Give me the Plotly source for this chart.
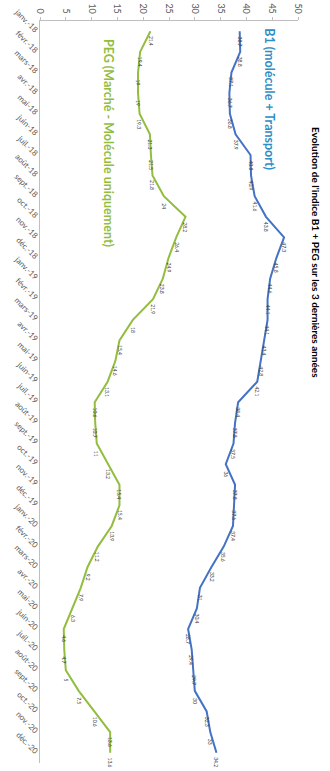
import plotly.graph_objects as go

months = ["janv.-18", "févr.-18", "mars-18", "avr.-18", "mai-18", "juin-18", "juil.-18", "août-18",
          "sept.-18", "oct.-18", "nov.-18", "déc.-18",
          "janv.-19", "févr.-19", "mars-19", "avr.-19", "mai-19", "juin-19", "juil.-19", "août-19",
          "sept.-19", "oct.-19", "nov.-19", "déc.-19",
          "janv.-20", "févr.-20", "mars-20", "avr.-20", "mai-20", "juin-20", "juil.-20", "août-20",
          "sept.-20", "oct.-20", "nov.-20", "déc.-20"]

b1 = [38.7, 38.8, 37.1, 36.7, 36.8, 37.9, 40.8, 40.9, 41.6, 43.8, 47.3, 45.8,
      44.6, 44.1, 44.1, 43.4, 42.8, 42.1, 38.4, 37.8, 37.5, 36.0, 37.8, 37.6,
      37.4, 35.6, 33.2, 31.0, 30.4, 28.7, 29.4, 29.7, 30.0, 32.3, 33.0, 34.2]

peg = [21.4, 19.4, 19.0, 19.0, 19.3, 21.3, 21.5, 21.8, 24.0, 28.2, 26.4, 24.9,
       23.8, 21.9, 18.0, 15.4, 14.6, 13.1, 10.6, 10.7, 11.0, 13.2, 15.4, 15.4,
       13.9, 11.2, 9.2, 7.9, 6.3, 4.6, 4.7, 5.0, 7.5, 10.6, 13.6, 13.6]

value_ticks = [0, 5, 10, 15, 20, 25, 30, 35, 40, 45, 50]

title_text = "Evolution de l'indice B1 + PEG sur les 3 dernières années"
b1_name = "B1 (molécule + Transport)"
peg_name = "PEG (Marché - Molécule uniquement)"

FONT = "Lato"
B1_COLOR = "#4472C4"
PEG_COLOR = "#92BD3F"

fig = go.Figure()
fig.add_trace(go.Scatter(x=b1, y=months, mode="lines", name=b1_name,
                         line=dict(color=B1_COLOR, width=2), showlegend=False))
fig.add_trace(go.Scatter(x=peg, y=months, mode="lines", name=peg_name,
                         line=dict(color=PEG_COLOR, width=2), showlegend=False))

annotations = []
for series in (b1, peg):
    for m, v in zip(months, series):
        annotations.append(dict(x=v, y=m, xref="x", yref="y", text=f"{v:g}",
                                showarrow=False, textangle=90, yshift=-10,
                                borderpad=0,
                                font=dict(family=FONT, size=5, color="#404040")))

annotations.append(dict(x=1.0, y=0.5, xref="paper", yref="paper",
                        text="<b>" + title_text + "</b>", showarrow=False,
                        textangle=90, xanchor="center", yanchor="middle",
                        xshift=18, yshift=140,
                        font=dict(family=FONT, size=10, color="#000000")))
annotations.append(dict(x=44.6, y=3.3, xref="x", yref="y",
                        text="<b>" + b1_name + "</b>", showarrow=False, textangle=90,
                        font=dict(family=FONT, size=12.5, color="#2E8EC6")))
annotations.append(dict(x=13.3, y=5.4, xref="x", yref="y",
                        text="<b>" + peg_name + "</b>", showarrow=False, textangle=90,
                        font=dict(family=FONT, size=12.5, color=PEG_COLOR)))

fig.update_layout(
    width=330, height=771,
    margin=dict(l=40, r=32, t=21, b=8),
    paper_bgcolor="white", plot_bgcolor="white",
    annotations=annotations,
    hovermode=False,
    xaxis=dict(range=[0, 50], side="top", tickvals=value_ticks, tickangle=90,
               showgrid=False, zeroline=False, showline=True, linecolor="#BFBFBF",
               ticks="outside", ticklen=3, tickcolor="#BFBFBF",
               tickfont=dict(family=FONT, size=9, color="#595959"), automargin=False),
    yaxis=dict(type="category", categoryorder="array", categoryarray=months,
               range=[35.5, -0.5], tickangle=45, showgrid=False, zeroline=False,
               showline=True, linecolor="#BFBFBF", ticks="",
               tickfont=dict(family=FONT, size=8, color="#595959"), automargin=False),
)

fig.write_html("out.html", config={"displayModeBar": False},
               post_script="document.body.style.margin='0';document.body.style.overflow='hidden';")
